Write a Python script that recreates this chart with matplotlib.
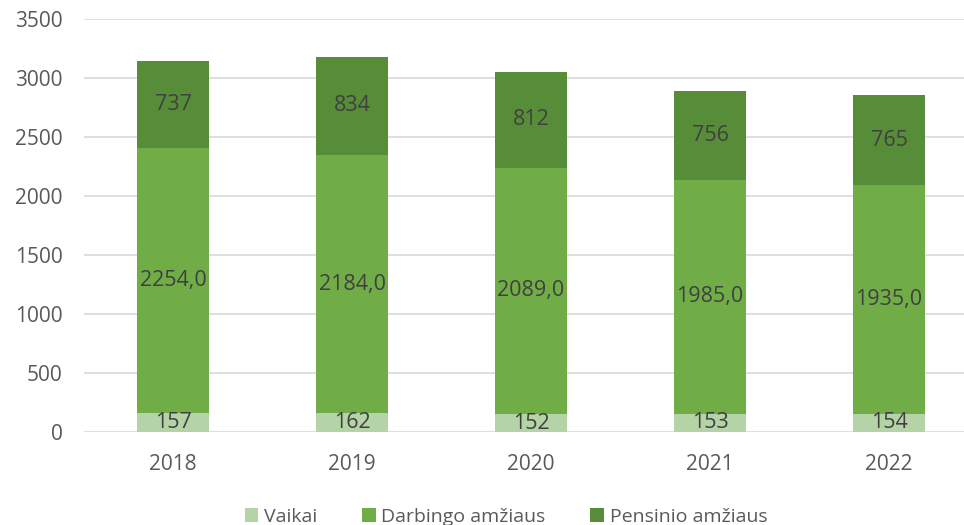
import matplotlib.pyplot as plt
import numpy as np

years = ["2018", "2019", "2020", "2021", "2022"]
vaikai = [157, 162, 152, 153, 154]
darbingo = [2254, 2184, 2089, 1985, 1935]
pensinio = [737, 834, 812, 756, 765]

plt.rcParams['font.family'] = ['Open Sans', 'DejaVu Sans']
txt = '#595959'

fig = plt.figure(figsize=(9.64, 5.25), dpi=100)
ax = fig.add_axes([83.5 / 964, 93 / 525, 895 / 964, 413 / 525])

x = np.arange(len(years))
w = 0.4
c1, c2, c3 = '#b4d3a6', '#70ad47', '#578d39'

b1 = ax.bar(x, vaikai, w, color=c1, label='Vaikai', zorder=2)
b2 = ax.bar(x, darbingo, w, bottom=vaikai, color=c2, label='Darbingo amžiaus', zorder=2)
bottom3 = np.array(vaikai) + np.array(darbingo)
b3 = ax.bar(x, pensinio, w, bottom=bottom3, color=c3, label='Pensinio amžiaus', zorder=2)

for i in x:
    ax.text(i, vaikai[i] / 2, str(vaikai[i]), ha='center', va='center',
            fontsize=15.5, color='#404040', zorder=3)
    ax.text(i, vaikai[i] + darbingo[i] / 2, f"{darbingo[i]},0", ha='center', va='center',
            fontsize=15.5, color='#404040', zorder=3)
    ax.text(i, bottom3[i] + pensinio[i] / 2, str(pensinio[i]), ha='center', va='center',
            fontsize=15.5, color='#404040', zorder=3)

ax.set_xlim(-0.5, 4.5)
ax.set_ylim(0, 3500)
ax.set_yticks(range(0, 3501, 500))
ax.set_xticks(x)
ax.set_xticklabels(years)
ax.yaxis.grid(True, color='#d9d9d9', linewidth=1.2, zorder=0)
ax.set_axisbelow(True)
for s in ['top', 'right', 'left', 'bottom']:
    ax.spines[s].set_visible(False)
ax.tick_params(axis='both', length=0, labelsize=15, colors=txt)
ax.tick_params(axis='x', pad=16)
ax.tick_params(axis='y', pad=15)

fig.legend(handles=[b1, b2, b3], loc='center', bbox_to_anchor=(506 / 964, 1 - 517 / 525),
           ncol=3, frameon=False, fontsize=14, labelcolor=txt,
           handlelength=0.7, handleheight=0.7, handletextpad=0.3, columnspacing=2.3)

fig.savefig('out.png', dpi=100)
